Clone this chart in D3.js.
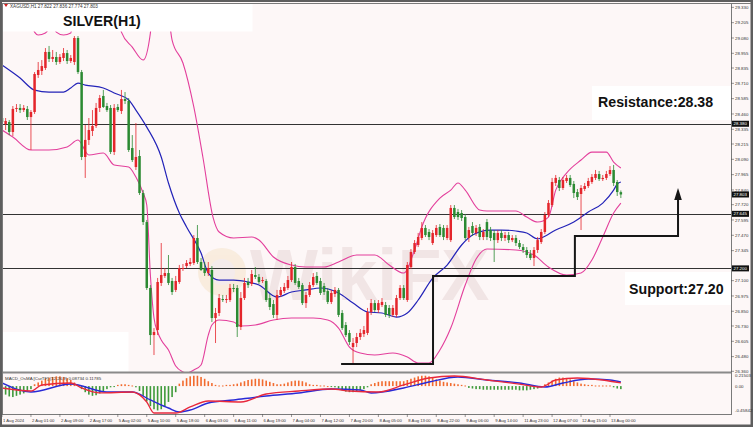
<!DOCTYPE html>
<html><head><meta charset="utf-8">
<script src="https://cdn.jsdelivr.net/npm/d3@7"></script>
<style>body{margin:0;background:#fff}svg{display:block}</style>
</head><body>
<script>
// ---------- DATA ----------
const openP=[28.427,28.378,28.394,28.313,28.501,28.509,28.492,28.501,28.435,28.476,
28.778,28.811,28.835,28.966,28.909,28.925,28.884,28.917,28.957,28.892,
28.884,29.080,28.802,28.109,28.248,28.321,28.362,28.509,28.607,28.525,
28.509,28.150,28.517,28.484,28.582,28.566,28.182,28.027,28.117,27.815,
27.578,27.040,26.656,26.697,27.081,27.138,27.162,27.097,27.024,27.089,
27.195,27.219,27.236,27.244,27.448,27.252,27.203,27.162,27.187,26.795,
26.836,26.950,26.942,26.942,27.040,27.040,26.722,26.958,27.089,27.073,
27.146,27.130,27.097,27.097,26.958,26.909,26.820,26.983,27.015,27.040,
27.105,27.211,27.097,27.064,26.917,26.983,27.064,27.138,27.097,27.056,
27.015,26.926,26.991,27.024,26.836,26.738,26.673,26.558,26.591,26.640,
26.664,26.673,26.844,26.917,26.860,26.901,26.901,26.877,26.820,26.820,
26.958,27.040,26.942,27.211,27.334,27.391,27.448,27.530,27.497,27.407,
27.472,27.538,27.530,27.448,27.431,27.693,27.660,27.652,27.619,27.448,
27.546,27.489,27.538,27.456,27.578,27.513,27.489,27.431,27.489,27.448,
27.472,27.431,27.448,27.407,27.374,27.350,27.317,27.285,27.350,27.415,
27.497,27.636,27.717,27.897,27.921,27.856,27.913,27.938,27.889,27.823,
27.807,27.848,27.872,27.905,27.938,27.970,27.929,27.938,27.970,28.003,
27.905,27.822];
const highP=[28.452,28.427,28.411,28.525,28.541,28.541,28.533,28.525,28.492,28.802,
28.884,28.900,28.998,29.015,28.982,28.966,28.949,28.998,28.982,28.941,
29.096,29.096,28.819,28.370,28.427,28.492,28.550,28.615,28.656,28.550,
28.533,28.541,28.541,28.656,28.639,28.590,28.288,28.386,28.166,27.840,
27.595,27.064,26.713,27.122,27.407,27.203,27.309,27.122,27.138,27.228,
27.236,27.268,27.285,27.472,27.554,27.285,27.252,27.252,27.219,26.877,
26.991,26.983,26.983,27.073,27.073,27.064,27.007,27.122,27.122,27.187,
27.211,27.154,27.130,27.113,26.991,26.942,27.024,27.048,27.081,27.138,
27.252,27.236,27.122,27.081,27.007,27.089,27.162,27.170,27.122,27.081,
27.040,27.024,27.048,27.040,26.860,26.762,26.697,26.632,26.673,26.705,
26.730,26.877,26.950,26.942,26.942,26.958,26.926,26.901,26.901,26.983,
27.064,27.064,27.252,27.358,27.431,27.489,27.578,27.554,27.521,27.513,
27.554,27.562,27.554,27.554,27.717,27.717,27.685,27.676,27.644,27.538,
27.578,27.554,27.562,27.521,27.603,27.538,27.513,27.513,27.513,27.497,
27.497,27.472,27.472,27.431,27.399,27.374,27.350,27.374,27.456,27.521,
27.660,27.758,27.938,27.962,27.946,27.946,27.962,27.962,27.913,27.848,
27.880,27.897,27.938,27.970,28.003,27.995,27.962,27.995,28.035,28.044,
27.921,27.836];
const lowP=[28.370,28.329,28.288,28.280,28.476,28.468,28.476,28.411,28.166,28.460,
28.754,28.778,28.819,28.884,28.884,28.860,28.868,28.892,28.868,28.876,
28.860,28.786,28.084,27.938,28.207,28.280,28.346,28.476,28.509,28.476,
28.133,28.125,28.476,28.460,28.541,28.150,28.068,28.003,27.799,27.554,
27.024,26.575,26.493,26.656,27.056,27.122,27.064,26.983,27.007,27.073,
27.179,27.203,27.219,27.228,27.236,27.179,27.138,27.138,26.762,26.591,
26.811,26.926,26.917,26.926,27.007,26.640,26.697,26.942,27.040,27.056,
27.113,27.073,27.081,26.926,26.860,26.795,26.779,26.966,26.999,27.024,
27.089,27.064,27.032,26.901,26.877,26.966,27.048,27.064,26.983,26.983,
26.909,26.909,26.966,26.803,26.697,26.640,26.575,26.428,26.558,26.616,
26.640,26.656,26.820,26.844,26.836,26.885,26.803,26.795,26.803,26.803,
26.942,26.942,26.926,27.195,27.317,27.374,27.431,27.456,27.431,27.391,
27.456,27.456,27.431,27.431,27.415,27.603,27.595,27.587,27.431,27.415,
27.464,27.464,27.431,27.431,27.431,27.423,27.252,27.407,27.423,27.423,
27.407,27.415,27.383,27.358,27.326,27.285,27.268,27.219,27.326,27.399,
27.480,27.619,27.701,27.872,27.831,27.840,27.897,27.864,27.774,27.758,
27.513,27.831,27.856,27.889,27.921,27.913,27.913,27.921,27.954,27.872,
27.791,27.774];
const closeP=[28.394,28.403,28.313,28.501,28.509,28.492,28.509,28.435,28.476,28.786,
28.819,28.851,28.966,28.909,28.925,28.884,28.925,28.957,28.892,28.917,
29.080,28.802,28.109,28.248,28.329,28.362,28.509,28.590,28.517,28.492,
28.150,28.509,28.492,28.582,28.566,28.166,28.084,28.109,27.815,27.578,
27.040,26.656,26.681,27.089,27.146,27.162,27.081,27.007,27.097,27.203,
27.203,27.244,27.252,27.448,27.252,27.187,27.162,27.203,26.795,26.836,
26.958,26.942,26.950,27.040,27.032,26.722,26.958,27.081,27.064,27.154,
27.130,27.089,27.105,26.942,26.885,26.820,26.983,27.024,27.048,27.105,
27.211,27.081,27.048,26.917,26.983,27.064,27.130,27.081,26.999,27.007,
26.926,26.999,27.024,26.820,26.713,26.656,26.599,26.591,26.640,26.673,
26.697,26.844,26.917,26.860,26.917,26.926,26.820,26.820,26.877,26.958,
27.040,26.958,27.228,27.334,27.407,27.456,27.530,27.472,27.456,27.489,
27.530,27.472,27.456,27.530,27.693,27.619,27.619,27.611,27.448,27.513,
27.489,27.530,27.456,27.497,27.456,27.448,27.431,27.489,27.448,27.472,
27.431,27.448,27.407,27.374,27.350,27.309,27.285,27.350,27.431,27.497,
27.636,27.734,27.905,27.938,27.856,27.921,27.938,27.880,27.815,27.782,
27.856,27.872,27.913,27.946,27.970,27.929,27.938,27.970,28.003,27.897,
27.823,27.803];

const maLine=[[0,28.859],[5,28.753],[9,28.655],[13,28.639],[17,28.639],[19,28.672],[21,28.712],[23,28.696],[28,28.672],[31,28.631],[35,28.574],[37,28.492],[40,28.353],[44,28.109],[46,27.897],[49,27.652],[51,27.538],[55,27.325],[57,27.162],[60,27.105],[64,27.105],[68,27.089],[71,27.064],[76,26.966],[80,27.007],[84,27.024],[88,27.040],[93,26.999],[97,26.917],[101,26.844],[105,26.836],[109,26.803],[112,26.836],[115,26.942],[119,27.121],[123,27.227],[127,27.391],[130,27.472],[135,27.513],[138,27.513],[142,27.505],[145,27.489],[148,27.440],[149,27.448],[153,27.513],[158,27.578],[162,27.660],[166,27.733],[169,27.839],[170,27.888],[171,27.905]];
const bbUpper=[[0,29.55],[6,29.43],[9,29.128],[10,29.104],[12,29.120],[14,29.19],[15,29.128],[17,29.104],[19,29.120],[20,29.39],[23,29.7],[30,29.63],[33,29.128],[36,29.006],[39,28.900],[41,29.120],[42,29.47],[45,29.47],[47,29.063],[50,28.876],[53,28.517],[55.5,28.109],[58.3,27.619],[60,27.497],[64,27.448],[69,27.456],[71,27.431],[75,27.293],[80,27.227],[84,27.211],[89,27.211],[93,27.252],[98,27.309],[103,27.309],[107,27.227],[111,27.162],[114,27.350],[116,27.538],[121,27.774],[124,27.839],[126,27.897],[128,27.839],[132,27.676],[134,27.668],[142,27.668],[145,27.619],[148,27.578],[151,27.619],[153,27.839],[156,27.978],[160,28.084],[163,28.149],[167,28.149],[169,28.068],[171,28.019]];
const bbLower=[[0,28.329],[3,28.272],[8,28.166],[13,28.166],[18,28.190],[21,28.247],[24,28.125],[28,28.141],[31,28.043],[35,28.027],[37,27.945],[39,27.815],[40,27.717],[41,27.146],[42,26.795],[43,26.681],[44,26.616],[46,26.534],[48,26.404],[50,26.355],[51,26.346],[53,26.371],[55,26.412],[57,26.656],[58,26.738],[60,26.779],[64,26.762],[66,26.730],[70,26.738],[75,26.779],[80,26.795],[86,26.795],[90,26.779],[93,26.713],[96,26.558],[99,26.509],[103,26.493],[108,26.509],[112,26.477],[115,26.428],[118,26.428],[121,26.534],[124,26.713],[128,27.064],[131,27.276],[134,27.358],[142,27.350],[147,27.309],[151,27.211],[156,27.146],[160,27.162],[163,27.268],[166,27.456],[169,27.652],[171,27.733]];

const osma=[-0.10,-0.14,-0.17,-0.18,-0.16,-0.14,-0.12,-0.09,-0.05,
0.03,0.06,0.09,0.12,0.14,0.15,0.16,0.16,0.15,0.13,0.10,
0.06,0.02,
-0.05,-0.10,-0.14,-0.16,-0.15,-0.12,-0.09,-0.05,
-0.02,-0.01,0.02,0.03,0.03,0.02,0.01,-0.02,
-0.08,-0.16,-0.25,-0.33,-0.38,-0.40,-0.38,-0.33,-0.26,-0.18,-0.10,
0.04,0.09,0.13,0.16,0.17,0.17,0.15,0.12,0.08,0.05,
0.02,0.01,0.01,0.02,0.02,0.03,0.04,
0.06,0.08,0.10,0.11,0.12,0.12,0.11,0.09,0.07,0.05,
0.03,0.03,0.04,
0.06,0.08,0.09,0.09,0.08,0.06,
0.03,0.02,0.02,0.01,0.01,0.00,-0.01,-0.02,
-0.04,-0.07,-0.09,-0.10,-0.10,-0.09,-0.07,-0.05,-0.02,
0.03,0.05,0.07,0.08,0.08,0.08,0.08,0.08,0.08,0.08,
0.10,0.12,0.14,0.16,0.17,0.17,0.16,0.14,
0.11,0.09,0.07,0.06,0.05,0.04,0.03,
0.02,0.01,
-0.03,-0.04,-0.05,-0.05,-0.06,-0.06,-0.06,-0.06,-0.06,-0.06,-0.06,-0.06,-0.06,-0.06,-0.07,-0.07,-0.07,-0.06,-0.05,-0.04,-0.02,
0.03,0.06,0.09,0.12,0.14,0.14,0.13,0.11,0.08,0.06,0.04,
0.03,0.02,0.02,0.01,0.01,0.01,0.01,0.01,
-0.02,-0.04,-0.05];
const macdRed=[[0,-0.031],[8,-0.081],[11,0.018],[19,0.051],[22,-0.031],[27,-0.113],[36,-0.097],[40,-0.261],[42,-0.442],[48,-0.442],[52,-0.343],[57,-0.245],[66,-0.261],[73,-0.130],[82,-0.081],[91,-0.048],[96,-0.081],[104,-0.097],[111,0.018],[118,0.133],[125,0.166],[134,0.100],[143,0.034],[149,-0.015],[153,0.100],[159,0.133],[166,0.100],[171,0.051]];
const macdBlue=[[0,0.051],[8,-0.097],[19,0.034],[29,-0.097],[36,-0.097],[41,-0.228],[46,-0.360],[49,-0.425],[52,-0.393],[57,-0.278],[64,-0.228],[73,-0.163],[82,-0.113],[91,-0.048],[99,-0.064],[102,-0.113],[111,-0.031],[118,0.067],[126,0.149],[134,0.100],[143,0.051],[150,-0.015],[155,0.051],[162,0.116],[168,0.100],[171,0.067]];

const dateLabels=["1 Aug 2024","2 Aug 01:00","2 Aug 09:00","2 Aug 17:00","5 Aug 02:00","5 Aug 10:00","5 Aug 18:00","6 Aug 03:00","6 Aug 11:00","6 Aug 19:00","7 Aug 04:00","7 Aug 12:00","7 Aug 20:00","8 Aug 05:00","8 Aug 13:00","8 Aug 22:00","9 Aug 06:00","9 Aug 14:00","11 Aug 23:00","12 Aug 07:00","12 Aug 15:00","13 Aug 00:00"];
const dateLabelBars=[0,8,16,24,32,40,48,56,64,72,80,88,96,104,112,120,128,136,144,152,160,168];
const priceTicks=[29.330,29.205,29.080,28.955,28.835,28.710,28.585,28.460,28.335,28.215,28.090,27.965,27.840,27.720,27.595,27.470,27.345,27.100,26.975,26.850,26.730,26.605,26.480,26.360];
const levelLines=[28.380,27.645,27.200];
const markedPrices=[28.380,27.803,27.645,27.200];
const macdTicks=[0.21503,0.00,-0.45842];
const stepPath=[[93.7,26.420],[119.1,26.420],[119.1,27.138],[158.3,27.138],[158.3,27.464],[186.8,27.464],[186.8,27.80]];
const arrowTip=[186.8,27.856];

// ---------- LAYOUT ----------
const W=753,H=427;
const L=2.5,R=731,mainTop=3,mainBot=372,macdTop=373,macdBot=414;
const font="'Liberation Sans', Arial, sans-serif";
const svg=d3.select("body").append("svg").attr("width",W).attr("height",H);
const x=d3.scaleLinear().domain([0,171]).range([2,620.85]);
const y=d3.scaleLinear().domain([26.3545,29.3655]).range([372,3]);
const ym=d3.scaleLinear().domain([-0.45842,0.21503]).range([414,373]);

svg.append("rect").attr("width",W).attr("height",H).attr("fill","#5e5e5e");
svg.append("rect").attr("x",2).attr("y",2).attr("width",748.5).attr("height",422.5).attr("fill","#fdf7f7");

const defs=svg.append("defs");
defs.append("clipPath").attr("id","cm").append("rect").attr("x",L).attr("y",mainTop).attr("width",R-L).attr("height",mainBot-mainTop);
defs.append("clipPath").attr("id","cs").append("rect").attr("x",L).attr("y",macdTop+1).attr("width",R-L).attr("height",macdBot-macdTop-1);

const gm=svg.append("g").attr("clip-path","url(#cm)");

// white patch
gm.append("rect").attr("x",L).attr("y",332).attr("width",126).attr("height",40).attr("fill","#ffffff");

// watermark
const wm=gm.append("g").attr("opacity",0.3);
wm.append("circle").attr("cx",222).attr("cy",272).attr("r",24).attr("fill","#f0d6a8");
wm.append("circle").attr("cx",222).attr("cy",272).attr("r",13).attr("fill","#e0d0d0");
wm.append("text").attr("x",250).attr("y",300).attr("font-family",font).attr("font-weight","bold")
  .attr("font-size",72).attr("fill","#d8bcbc").text("WikiFX");

// level lines
gm.selectAll("line.lvl").data(levelLines).join("line").attr("class","lvl")
  .attr("x1",L).attr("x2",R).attr("y1",d=>Math.round(y(d))+0.5).attr("y2",d=>Math.round(y(d))+0.5)
  .attr("stroke","#333").attr("stroke-width",1);

// bands and MA
const lineGen=d3.line().x(d=>x(d[0])).y(d=>y(d[1])).curve(d3.curveMonotoneX);
gm.append("path").attr("d",lineGen(bbUpper)).attr("fill","none").attr("stroke","#e33f9c").attr("stroke-width",1.1);
gm.append("path").attr("d",lineGen(bbLower)).attr("fill","none").attr("stroke","#e33f9c").attr("stroke-width",1.1);
gm.append("path").attr("d",lineGen(maLine)).attr("fill","none").attr("stroke","#2323b8").attr("stroke-width",1.2);

// candles
const idx=d3.range(closeP.length);
const col=i=>closeP[i]>=openP[i]?"#e4252b":"#2b8a32";
gm.selectAll("line.wick").data(idx).join("line").attr("class","wick")
  .attr("x1",i=>x(i)).attr("x2",i=>x(i)).attr("y1",i=>y(highP[i])).attr("y2",i=>y(lowP[i]))
  .attr("stroke",col).attr("stroke-width",0.8);
gm.selectAll("rect.body").data(idx).join("rect").attr("class","body")
  .attr("x",i=>x(i)-1.25).attr("width",2.5)
  .attr("y",i=>Math.min(y(openP[i]),y(closeP[i])))
  .attr("height",i=>Math.max(1,Math.abs(y(openP[i])-y(closeP[i]))))
  .attr("fill",col);

// step annotation
const stepGen=d3.line().x(d=>x(d[0])).y(d=>y(d[1]));
svg.append("path").attr("d",stepGen(stepPath)).attr("fill","none").attr("stroke","#161616").attr("stroke-width",2);
const tx=x(arrowTip[0]),ty=y(arrowTip[1]);
svg.append("path").attr("d",`M${tx},${ty} L${tx-3.8},${ty+12} L${tx+3.8},${ty+12} Z`).attr("fill","#161616");

// title box & annotation boxes
svg.append("rect").attr("x",L).attr("y",mainTop+0.5).attr("width",250).attr("height",28).attr("fill","#ffffff");
svg.append("rect").attr("x",592).attr("y",86).attr("width",R-592).attr("height",34).attr("fill","#ffffff");
svg.append("rect").attr("x",625).attr("y",272).attr("width",R-625).attr("height",33).attr("fill","#ffffff");

svg.append("text").attr("x",63).attr("y",26).attr("font-family",font).attr("font-weight","bold").attr("font-size",14.2).attr("fill","#111").text("SILVER(H1)");
svg.append("text").attr("x",598).attr("y",106.5).attr("font-family",font).attr("font-weight","bold").attr("font-size",14.2).attr("fill","#111").text("Resistance:28.38");
svg.append("text").attr("x",629).attr("y",294).attr("font-family",font).attr("font-weight","bold").attr("font-size",14.2).attr("fill","#111").text("Support:27.20");

// header
svg.append("path").attr("d","M4,4 L8,4 L6,7 Z").attr("fill","#d02020");
svg.append("text").attr("x",10).attr("y",8.3).attr("font-family",font).attr("font-size",4.6).attr("fill","#333")
  .text("XAGUSD,H1  27.822 27.836 27.774 27.803");

// MACD panel
const gs=svg.append("g").attr("clip-path","url(#cs)");
gs.selectAll("rect.hist").data(idx).join("rect").attr("class","hist")
  .attr("x",i=>x(i)-0.8).attr("width",1.6)
  .attr("y",i=>Math.min(ym(0),ym(osma[i])))
  .attr("height",i=>Math.max(1,Math.abs(ym(osma[i])-ym(0))))
  .attr("fill",i=>osma[i]>=0?"#f26b2e":"#3f9a3a");
const mGen=d3.line().x(d=>x(d[0])).y(d=>ym(d[1])).curve(d3.curveMonotoneX);
gs.append("path").attr("d",mGen(macdBlue)).attr("fill","none").attr("stroke","#2a2ad6").attr("stroke-width",1.4);
gs.append("path").attr("d",mGen(macdRed)).attr("fill","none").attr("stroke","#e8283c").attr("stroke-width",1.3);
svg.append("text").attr("x",5).attr("y",380).attr("font-family",font).attr("font-size",4.4).attr("fill","#333")
  .text("MACD_OsMA [CurTF] (12,26,9) 0.08734 0.11785");

// frames
const fr=svg.append("g").attr("stroke","#7a7a7a").attr("fill","none");
fr.append("line").attr("x1",2).attr("x2",751).attr("y1",3.5).attr("y2",3.5);
fr.append("line").attr("x1",R+0.5).attr("x2",R+0.5).attr("y1",3).attr("y2",macdBot+1);
fr.append("line").attr("x1",2).attr("x2",R).attr("y1",mainBot+0.5).attr("y2",mainBot+0.5).attr("stroke","#8a8a8a").attr("stroke-width",2);
fr.append("line").attr("x1",2).attr("x2",R+1).attr("y1",macdBot+0.5).attr("y2",macdBot+0.5);
fr.append("line").attr("x1",2.5).attr("x2",2.5).attr("y1",3).attr("y2",macdBot+1);

// price axis
const ax=svg.append("g");
ax.selectAll("line.pt").data(priceTicks).join("line").attr("class","pt")
  .attr("x1",R).attr("x2",R+3).attr("y1",d=>y(d)).attr("y2",d=>y(d)).attr("stroke","#555").attr("stroke-width",0.6);
ax.selectAll("text.pl").data(priceTicks).join("text").attr("class","pl")
  .attr("x",R+4).attr("y",d=>y(d)+1.6).attr("font-family",font).attr("font-size",4.4).attr("fill","#333")
  .text(d=>d.toFixed(3));
const mk=ax.selectAll("g.mk").data(markedPrices).join("g").attr("class","mk");
mk.append("rect").attr("x",R+1).attr("y",d=>y(d)-3).attr("width",17).attr("height",6).attr("fill","#111");
mk.append("text").attr("x",R+2.5).attr("y",d=>y(d)+1.6).attr("font-family",font).attr("font-size",4.4).attr("fill","#fff")
  .text(d=>d.toFixed(3));
ax.selectAll("text.ml").data(macdTicks).join("text").attr("class","ml")
  .attr("x",R+4).attr("y",d=>Math.min(411.5,Math.max(377,ym(d)+1.6))).attr("font-family",font).attr("font-size",4.4).attr("fill","#333")
  .text(d=>d===0?"0.00":d.toFixed(5));

// time axis
ax.selectAll("line.dt").data(dateLabelBars).join("line").attr("class","dt")
  .attr("x1",d=>x(d)).attr("x2",d=>x(d)).attr("y1",macdBot).attr("y2",macdBot+3).attr("stroke","#555").attr("stroke-width",0.6);
ax.selectAll("text.dl").data(dateLabels).join("text").attr("class","dl")
  .attr("x",(d,i)=>x(dateLabelBars[i])+1).attr("y",421.5).attr("font-family",font).attr("font-size",4.2).attr("fill","#333")
  .text(d=>d);
</script>
</body></html>
